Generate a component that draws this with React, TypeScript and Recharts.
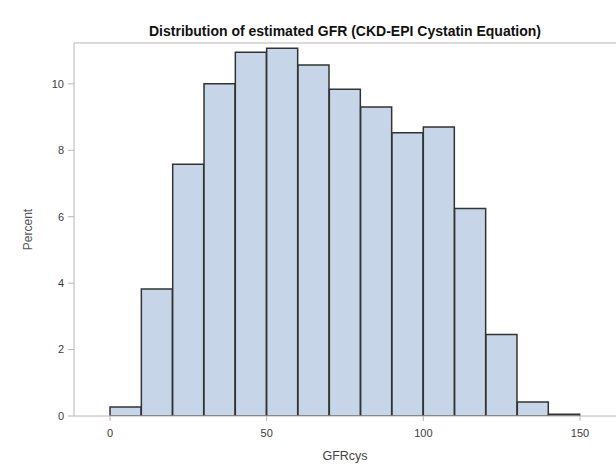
import React from 'react';
import { BarChart, Bar, XAxis, YAxis, ReferenceLine } from 'recharts';

// GFRcys histogram, bins of width 10
const binStarts = [0, 10, 20, 30, 40, 50, 60, 70, 80, 90, 100, 110, 120, 130, 140];
const percents = [0.27, 3.82, 7.58, 10.0, 10.95, 11.07, 10.57, 9.84, 9.3, 8.53, 8.7, 6.25, 2.45, 0.42, 0.05];
const binWidth = 10;

const xTicks = [0, 50, 100, 150];
const yTicks = [0, 2, 4, 6, 8, 10];
const xDomain = [-11.5, 161.5];
const yMax = 11.23;

const data = binStarts.map((start, i) => ({ mid: start + binWidth / 2, percent: percents[i] }));

const FONT = 'Arial, "Liberation Sans", Helvetica, sans-serif';
const FRAME = '#bcb4b4';

export default function App() {
  return (
    <div style={{ position: 'absolute', left: 0, top: 0, width: 616, height: 468, background: '#fff', fontFamily: FONT }}>
      <div
        style={{
          position: 'absolute',
          left: 74,
          width: 542,
          top: 23,
          textAlign: 'center',
          fontSize: 14,
          fontWeight: 'bold',
          lineHeight: '16px',
          color: '#111',
        }}
      >
        Distribution of estimated GFR (CKD-EPI Cystatin Equation)
      </div>
      <BarChart
        width={616}
        height={468}
        data={data}
        margin={{ top: 43, right: 0, bottom: 0, left: 0 }}
        barCategoryGap={0}
        barGap={0}
        style={{ fontFamily: FONT }}
      >
        <XAxis
          dataKey="mid"
          type="number"
          domain={xDomain}
          ticks={xTicks}
          allowDataOverflow
          height={52}
          tickSize={5}
          tickMargin={8}
          stroke={FRAME}
          tick={{ fill: '#3c3c3c', fontSize: 11 }}
          label={{ value: 'GFRcys', position: 'insideBottom', offset: 8, fill: '#444', fontSize: 12.5 }}
        />
        <YAxis
          type="number"
          domain={[0, yMax]}
          ticks={yTicks}
          allowDataOverflow
          width={74}
          tickSize={6}
          tickMargin={4}
          stroke={FRAME}
          tick={{ fill: '#3c3c3c', fontSize: 11 }}
          label={{
            value: 'Percent',
            angle: -90,
            position: 'insideLeft',
            offset: 28,
            fill: '#555',
            fontSize: 12,
            style: { textAnchor: 'middle' },
          }}
        />
        <ReferenceLine y={yMax} stroke={FRAME} ifOverflow="extendDomain" />
        <Bar dataKey="percent" fill="#c6d5e8" stroke="#333" strokeWidth={1.5} isAnimationActive={false} />
      </BarChart>
    </div>
  );
}
